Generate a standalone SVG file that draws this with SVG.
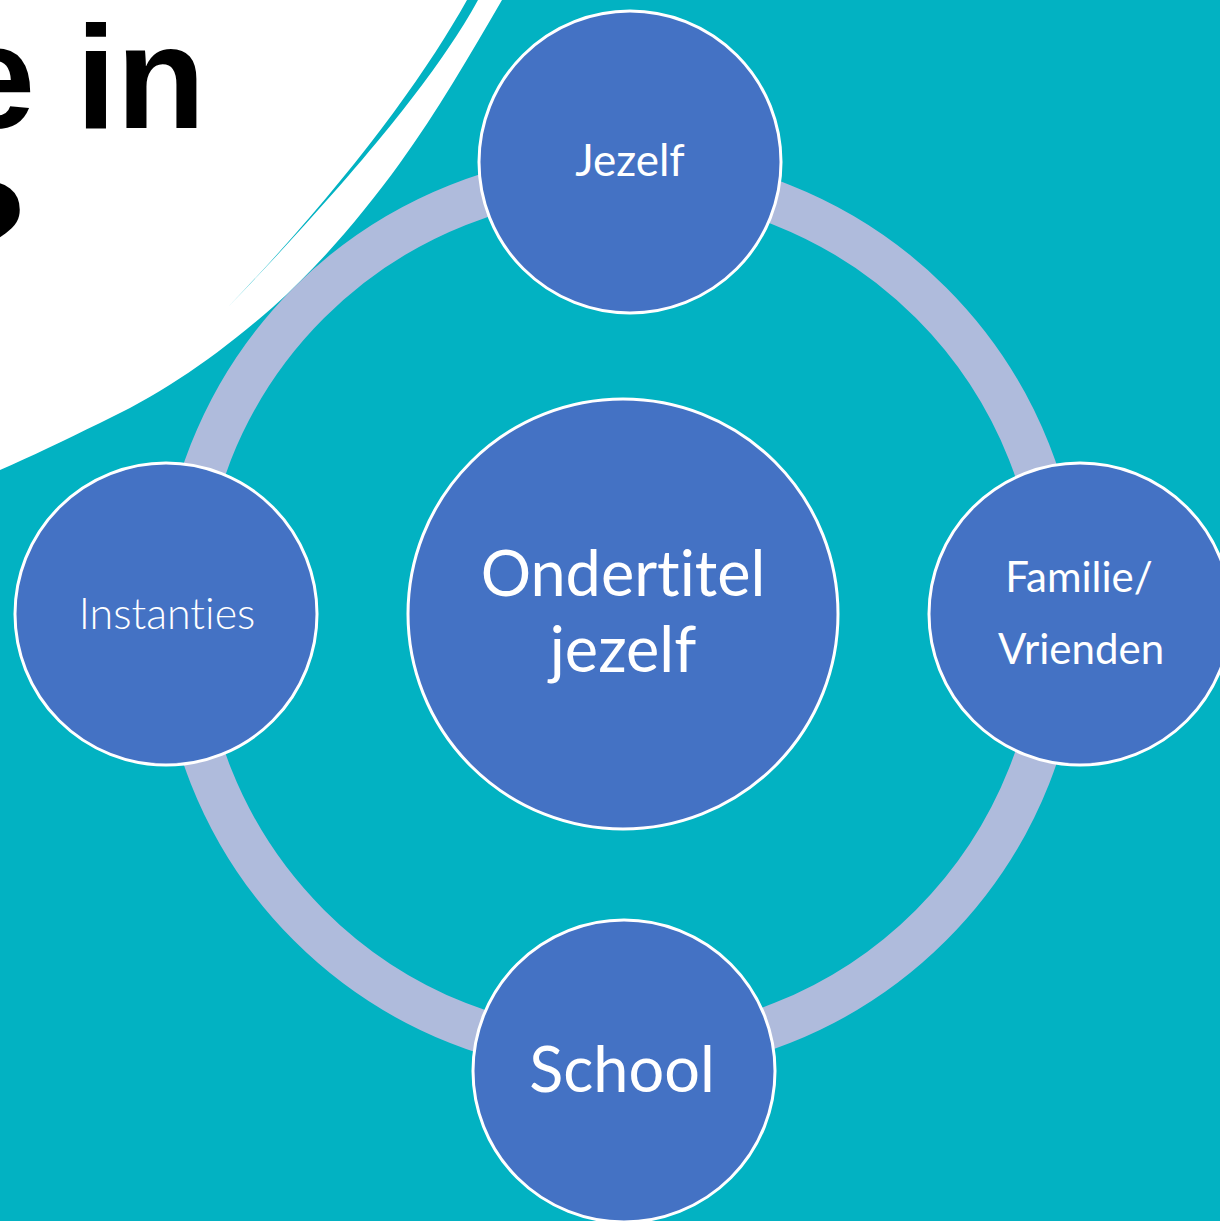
<svg xmlns="http://www.w3.org/2000/svg" width="1220" height="1221" viewBox="0 0 1220 1221">
  <style>
    .node { fill: #4472C4; stroke: #FFFFFF; stroke-width: 3; }
    .label { fill: #FFFFFF; font-family: Lato, "Noto Sans", "Liberation Sans", sans-serif; text-anchor: middle; font-variant-ligatures: none; font-feature-settings: "liga" 0, "clig" 0; }
    .light { font-weight: 300; }
    .title { fill: #000000; font-family: "Liberation Sans", Arial, sans-serif; font-weight: bold; font-size: 146px; }
  </style>

  <!-- slide background -->
  <rect x="0" y="0" width="1220" height="1221" fill="#02B2C2"/>

  <!-- white title panel with its swept edge -->
  <g id="title-panel">
    <path d="M0,0 L502,0 C470,55 437,112 400,163 C363,214 320,265 273,307 C215,358 160,395 100,423 C65,440 30,457 0,470 Z" fill="#FFFFFF"/>
    <path d="M478,0 C440,70 360,170 228,307 C350,180 425,75 467,0 Z" fill="#02B2C2"/>
    <text class="title" x="-46" y="128">e in</text>
    <text class="title" x="-61" y="283">?</text>
  </g>

  <!-- cycle ring joining the outer nodes -->
  <g id="connectors">
    <circle cx="620" cy="614" r="440" fill="none" stroke="#AFBBDC" stroke-width="43"/>
  </g>

  <g id="node-center">
    <circle class="node" cx="623" cy="614" r="215"/>
    <text class="label" x="623" y="596" font-size="63">Ondertitel</text>
    <text class="label" x="623" y="672" font-size="63">jezelf</text>
  </g>

  <g id="node-jezelf">
    <circle class="node" cx="630" cy="162" r="151"/>
    <text class="label" x="630" y="176" font-size="44">Jezelf</text>
  </g>

  <g id="node-familie">
    <circle class="node" cx="1080" cy="614" r="151"/>
    <text class="label" x="1079" y="592" font-size="42">Familie/</text>
    <text class="label" x="1081" y="664" font-size="42">Vrienden</text>
  </g>

  <g id="node-school">
    <circle class="node" cx="624" cy="1071" r="151"/>
    <text class="label" x="622" y="1092" font-size="63">School</text>
  </g>

  <g id="node-instanties">
    <circle class="node" cx="166" cy="614" r="151"/>
    <text class="label light" x="167" y="629" font-size="43">Instanties</text>
  </g>
</svg>
